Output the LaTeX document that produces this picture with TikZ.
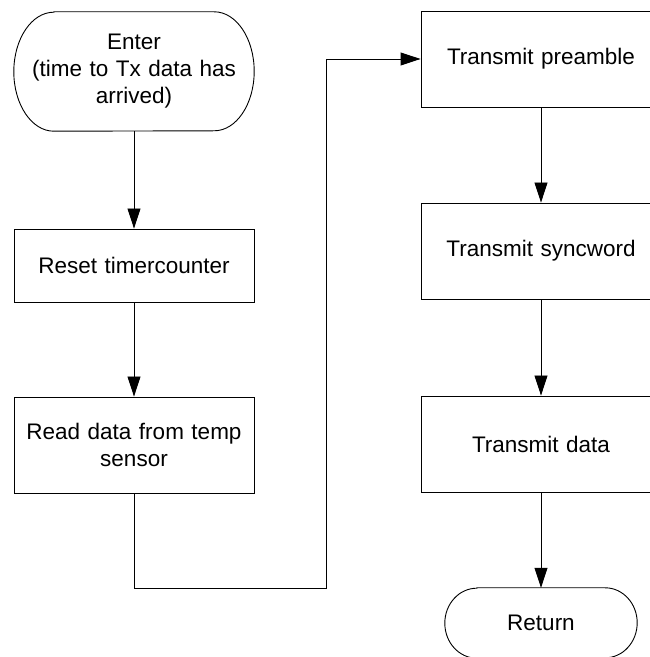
\documentclass[tikz,border=0pt]{standalone}
\usepackage{fontspec}
\setmainfont{Liberation Sans}
\usetikzlibrary{arrows.meta}
\tikzset{
  txt/.style={font=\fontsize{22.5}{27}\selectfont, align=center, inner sep=0pt},
  stepbox/.style={txt, draw, rectangle, line width=0.9pt, minimum width=240pt, text width=236pt},
  term/.style={txt, rectangle, text width=236pt},
  outline/.style={line width=0.9pt},
  arr/.style={line width=0.9pt, -{Triangle[length=20pt,width=13pt]}},
  conn/.style={line width=0.9pt}
}
\begin{document}
\begin{tikzpicture}[x=1pt,y=1pt]
\clip (0,0) rectangle (650,657);
\fill[white] (0,0) rectangle (650,657);
% left column
\node[term, minimum width=240pt, minimum height=119pt] (enter) at (134,585.5) {Enter\\(time to Tx data has\\arrived)};
\draw[outline] ([xshift=40pt]enter.north west) -- ([xshift=-40pt]enter.north east)
  arc[start angle=90,end angle=-90,x radius=40pt,y radius=59.5pt]
  -- ([xshift=40pt]enter.south west)
  arc[start angle=270,end angle=90,x radius=40pt,y radius=59.5pt] -- cycle;
\node[stepbox, minimum height=73pt] (reset) at (134,391.5) {Reset timercounter};
\node[stepbox, minimum height=96pt] (read) at (134,212) {Read data from temp\\sensor};
% right column
\node[stepbox, minimum height=96pt] (pre) at (541,598) {Transmit preamble};
\node[stepbox, minimum height=96pt] (sync) at (541,406) {Transmit syncword};
\node[stepbox, minimum height=96pt] (data) at (541,213) {Transmit data};
\node[term, text width=188pt, minimum width=192pt, minimum height=70pt] (ret) at (541,34) {Return};
\draw[outline] ([xshift=32pt]ret.north west) -- ([xshift=-32pt]ret.north east)
  arc[start angle=90,end angle=-90,x radius=32pt,y radius=35pt]
  -- ([xshift=32pt]ret.south west)
  arc[start angle=270,end angle=90,x radius=32pt,y radius=35pt] -- cycle;
% connectors
\coordinate (c1) at (134,69);
\coordinate (c2) at (326,69);
\coordinate (c3) at (326,598);
\draw[arr] (enter) -- (reset);
\draw[arr] (reset) -- (read);
\draw[conn] (read.south) -- (c1) -- (c2) -- (c3);
\draw[arr] (c3) -- (pre.west);
\draw[arr] (pre) -- (sync);
\draw[arr] (sync) -- (data);
\draw[arr] (data) -- (ret);
\end{tikzpicture}
\end{document}
